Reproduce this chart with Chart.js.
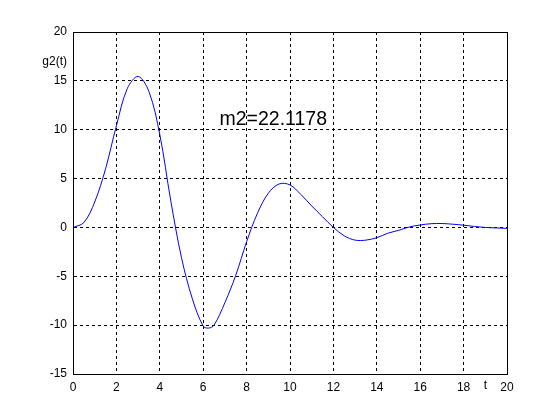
<!DOCTYPE html>
<html>
<head>
<meta charset="utf-8">
<script src="https://cdn.jsdelivr.net/npm/chart.js@4"></script>
<style>
  html, body { margin: 0; padding: 0; background: #fff; }
  #wrap { width: 560px; height: 420px; }
</style>
</head>
<body>
<div id="wrap"><canvas id="myChart"></canvas></div>
<script>
// values
const tValues = [0, 0.5, 1, 1.5, 2, 2.5, 3, 3.5, 4, 4.5, 5, 5.5, 6, 6.25, 6.5, 7, 7.5, 8, 8.5, 9,
  9.5, 10, 10.5, 11, 11.5, 12, 12.5, 13, 13.5, 14, 14.5, 15, 15.5, 16, 16.5, 17, 17.5, 18, 18.5, 19, 19.5, 20];
const g2Values = [0, 0.5, 2.6, 6.0, 10.4, 14.2, 15.45, 13.9, 9.5, 2.8, -3.1, -7.3, -10.1, -10.3, -10.0, -7.7, -4.9, -1.47, 1.45, 3.5,
  4.45, 4.35, 3.37, 2.2, 1.09, 0.0, -0.86, -1.3, -1.3, -1.05, -0.6, -0.3, 0.05, 0.25, 0.38, 0.4, 0.33, 0.23, 0.1, 0.0, -0.05, -0.1];
const xTicks = [0, 2, 4, 6, 8, 10, 12, 14, 16, 18, 20];
const yTicks = [-15, -10, -5, 0, 5, 10, 15, 20];
const noteText = "m2=22.1178";

const points = tValues.map((t, i) => ({ x: t, y: g2Values[i] }));

// frame + texts
const extras = {
  id: "extras",
  afterDraw(chart) {
    const c = chart.ctx;
    const a = chart.chartArea;
    const xs = chart.scales.x;
    const ys = chart.scales.y;
    c.save();
    c.strokeStyle = "#000";
    c.lineWidth = 1;
    c.setLineDash([]);
    c.strokeRect(Math.round(a.left) + 0.5, Math.round(a.top) + 0.5,
      Math.round(a.right - a.left), Math.round(a.bottom - a.top));
    c.fillStyle = "#000";
    c.font = "12px 'Liberation Sans', Arial, sans-serif";
    c.textAlign = "right";
    c.textBaseline = "middle";
    c.fillText("g2(t)", a.left - 6, ys.getPixelForValue(17));
    c.textAlign = "center";
    c.textBaseline = "top";
    c.fillText("t", xs.getPixelForValue(19), a.bottom + 6);
    c.font = "19.5px 'Liberation Sans', Arial, sans-serif";
    c.textAlign = "left";
    c.textBaseline = "middle";
    c.fillText(noteText, xs.getPixelForValue(6.75), ys.getPixelForValue(11));
    c.restore();
  }
};

const ctx = document.getElementById("myChart").getContext("2d");
const chart = new Chart(ctx, {
  type: "line",
  data: {
    datasets: [
      {
        data: points,
        borderColor: "rgb(0, 0, 255)",
        borderWidth: 1,
        pointRadius: 0,
        tension: 0.35,
        fill: false
      }
    ]
  },
  options: {
    responsive: true,
    maintainAspectRatio: false,
    animation: false,
    layout: { padding: { left: 0, top: 32, right: 53, bottom: 0 } },
    plugins: { legend: { display: false }, tooltip: { enabled: false } },
    scales: {
      x: {
        type: "linear",
        min: 0,
        max: 20,
        afterBuildTicks: (s) => { s.ticks = xTicks.map(v => ({ value: v })); },
        afterFit: (s) => { s.height = 46; },
        grid: { color: "#000", lineWidth: 1, drawTicks: false },
        border: { color: "#000", dash: [3, 3] },
        ticks: { color: "#000", padding: 6, maxRotation: 0, font: { family: "'Liberation Sans', Arial, sans-serif", size: 12 } }
      },
      y: {
        min: -15,
        max: 20,
        afterBuildTicks: (s) => { s.ticks = yTicks.map(v => ({ value: v })); },
        afterFit: (s) => { s.width = 73; },
        grid: { color: "#000", lineWidth: 1, drawTicks: false },
        border: { color: "#000", dash: [3, 3] },
        ticks: { color: "#000", padding: 6, font: { family: "'Liberation Sans', Arial, sans-serif", size: 12 } }
      }
    }
  },
  plugins: [extras]
});
</script>
</body>
</html>
